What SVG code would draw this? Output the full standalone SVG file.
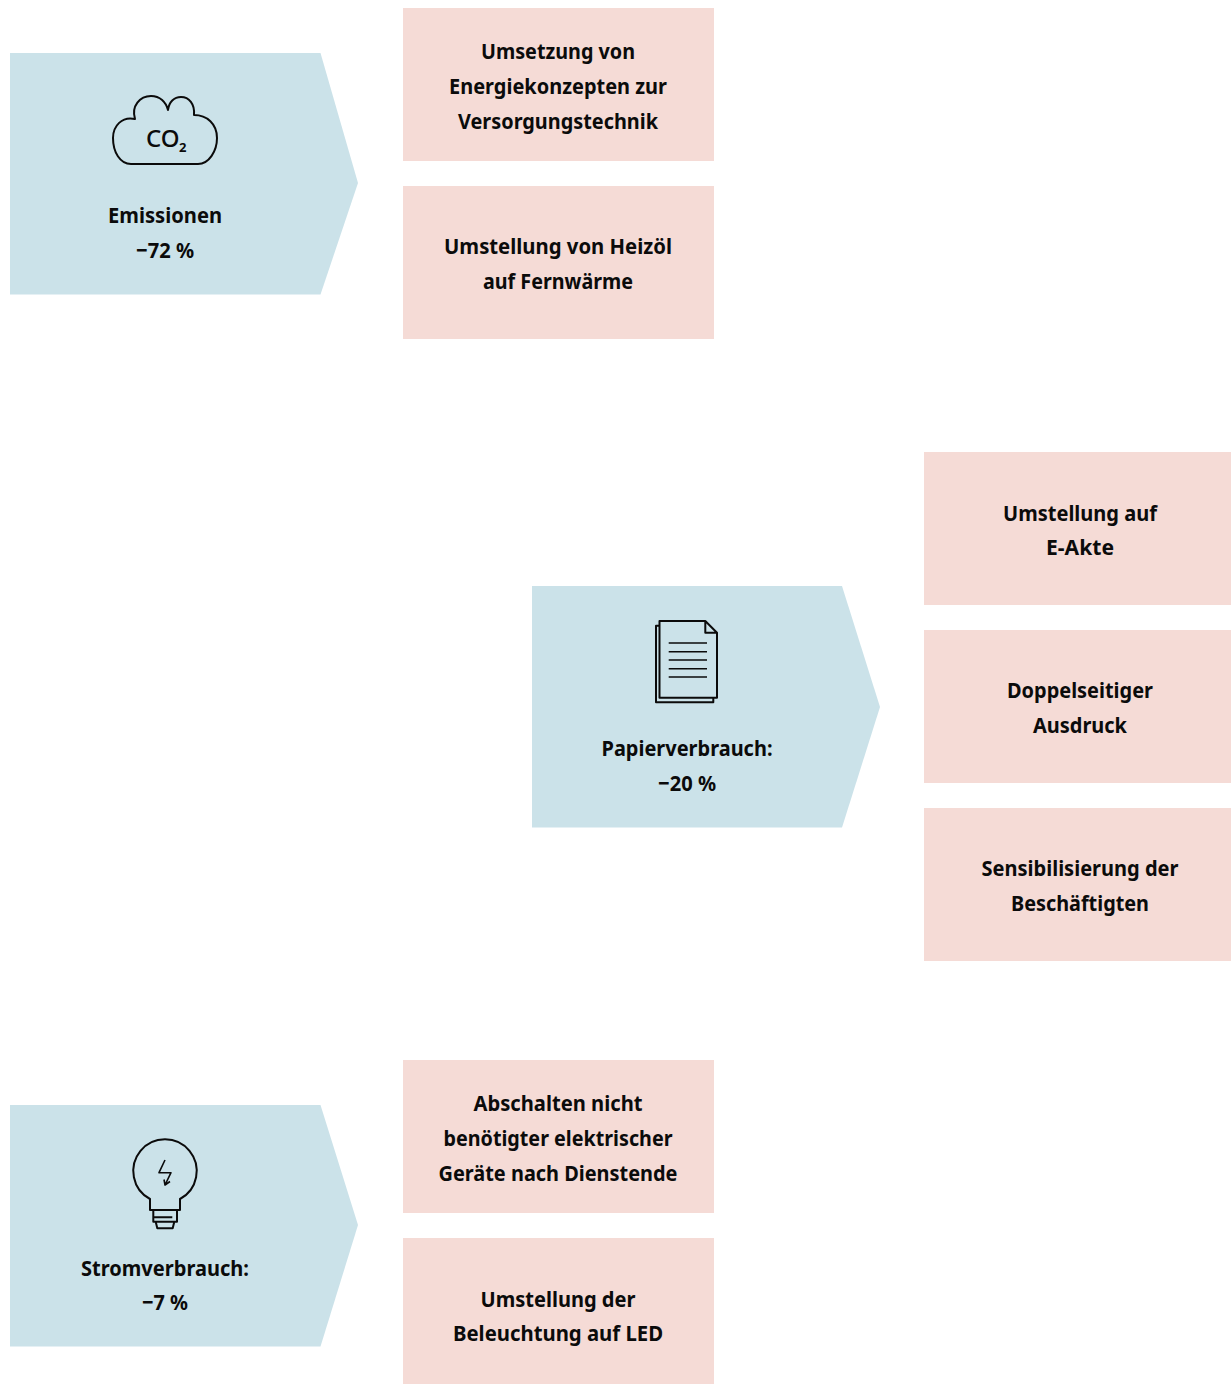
<svg xmlns="http://www.w3.org/2000/svg" width="1231" height="1384" viewBox="0 0 1231 1384">
<style>
.a{fill:#cbe2e9}
.b{fill:#f5dbd6}
.t{font-family:"Noto Sans","Liberation Sans",sans-serif;font-weight:700;font-size:22px;fill:#0b0b0b;text-anchor:middle}
.c{font-family:"Noto Sans","Liberation Sans",sans-serif;fill:#0b0b0b}
.i{fill:none;stroke:#0b0b0b;stroke-width:2;stroke-linejoin:round}
.n{stroke-width:1.600}
</style>
<rect width="1231" height="1384" fill="#fff"/>
<g id="emissionen">
<path class="a" d="M10 53H320.500L358 183L320.500 294.500H10Z"/>
<path class="i" d="M131 164H198C209 164 217 151 217 138C217 124 207 115 194 115C195 104 189 97 181 97C174 97 169 102 168 110C166 102 160 96 151 96C140 96 131 106 135 119C122 116 113 126 113 138C113 152 120 164 131 164Z"/>
<text class="c" x="146" y="147" font-size="24" font-weight="500">CO</text>
<text class="c" x="179" y="152" font-size="13" font-weight="700">2</text>
<text class="t" x="165" y="223" textLength="114" lengthAdjust="spacingAndGlyphs">Emissionen</text>
<text class="t" x="165" y="258" textLength="58" lengthAdjust="spacingAndGlyphs">−72 %</text>
</g>
<g id="massnahme-energiekonzepte">
<rect class="b" x="403" y="8" width="311" height="153"/>
<text class="t" x="558" y="59" textLength="154" lengthAdjust="spacingAndGlyphs">Umsetzung von</text>
<text class="t" x="558" y="94" textLength="218" lengthAdjust="spacingAndGlyphs">Energiekonzepten zur</text>
<text class="t" x="558" y="129" textLength="200" lengthAdjust="spacingAndGlyphs">Versorgungstechnik</text>
</g>
<g id="massnahme-fernwaerme">
<rect class="b" x="403" y="186" width="311" height="153"/>
<text class="t" x="558" y="254" textLength="228" lengthAdjust="spacingAndGlyphs">Umstellung von Heizöl</text>
<text class="t" x="558" y="289" textLength="150" lengthAdjust="spacingAndGlyphs">auf Fernwärme</text>
</g>
<g id="papierverbrauch">
<path class="a" d="M532 586H842L880 707L842 827.500H532Z"/>
<path class="i" d="M659.500 625.700H656V702.300H713.300V697.700"/>
<path class="i" d="M659.500 621H705.300L717 632.700V697.700H659.500ZM705.300 621V632.700H717"/>
<path class="i n" d="M668.700 643H707M668.700 651.700H707M668.700 660H707M668.700 668.700H707M668.700 677H707"/>
<text class="t" x="687" y="756" textLength="171" lengthAdjust="spacingAndGlyphs">Papierverbrauch:</text>
<text class="t" x="687" y="791" textLength="58" lengthAdjust="spacingAndGlyphs">−20 %</text>
</g>
<g id="massnahme-eakte">
<rect class="b" x="924" y="452" width="307" height="153"/>
<text class="t" x="1080" y="521" textLength="154" lengthAdjust="spacingAndGlyphs">Umstellung auf</text>
<text class="t" x="1080" y="555" textLength="68" lengthAdjust="spacingAndGlyphs">E-Akte</text>
</g>
<g id="massnahme-ausdruck">
<rect class="b" x="924" y="630" width="307" height="153"/>
<text class="t" x="1080" y="698" textLength="146" lengthAdjust="spacingAndGlyphs">Doppelseitiger</text>
<text class="t" x="1080" y="733" textLength="94" lengthAdjust="spacingAndGlyphs">Ausdruck</text>
</g>
<g id="massnahme-sensibilisierung">
<rect class="b" x="924" y="808" width="307" height="153"/>
<text class="t" x="1080" y="876" textLength="197" lengthAdjust="spacingAndGlyphs">Sensibilisierung der</text>
<text class="t" x="1080" y="911" textLength="138" lengthAdjust="spacingAndGlyphs">Beschäftigten</text>
</g>
<g id="stromverbrauch">
<path class="a" d="M10 1105H320.500L358 1225L320.500 1346.500H10Z"/>
<path class="i" d="M150 1210V1199A31.700 31.700 0 1 1 180 1199V1210ZM153.300 1210V1221.700H177V1210M153.300 1217.300H172.300M155.700 1221.700L157.300 1228.300H172.700L174.300 1221.700"/>
<path class="i n" d="M165 1160L159 1172.700H171L165 1185M164 1179.500L165 1185L170 1181.500"/>
<text class="t" x="165" y="1276" textLength="168" lengthAdjust="spacingAndGlyphs">Stromverbrauch:</text>
<text class="t" x="165" y="1310" textLength="46" lengthAdjust="spacingAndGlyphs">−7 %</text>
</g>
<g id="massnahme-abschalten">
<rect class="b" x="403" y="1060" width="311" height="153"/>
<text class="t" x="558" y="1111" textLength="169" lengthAdjust="spacingAndGlyphs">Abschalten nicht</text>
<text class="t" x="558" y="1146" textLength="229" lengthAdjust="spacingAndGlyphs">benötigter elektrischer</text>
<text class="t" x="558" y="1181" textLength="239" lengthAdjust="spacingAndGlyphs">Geräte nach Dienstende</text>
</g>
<g id="massnahme-led">
<rect class="b" x="403" y="1238" width="311" height="146"/>
<text class="t" x="558" y="1307" textLength="155" lengthAdjust="spacingAndGlyphs">Umstellung der</text>
<text class="t" x="558" y="1341" textLength="210" lengthAdjust="spacingAndGlyphs">Beleuchtung auf LED</text>
</g>
<g id="connectors"/>
</svg>
